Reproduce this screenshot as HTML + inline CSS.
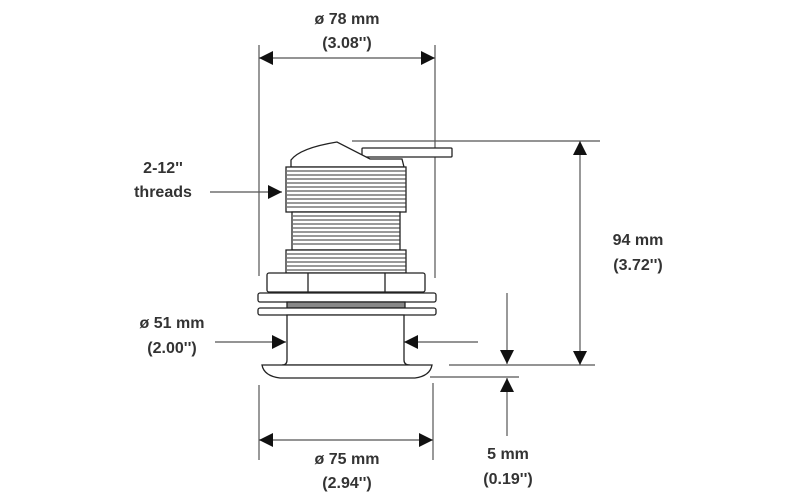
<!DOCTYPE html>
<html><head><meta charset="utf-8"><style>
html,body{margin:0;padding:0;background:#fff}
svg{display:block}
text{font-family:"Liberation Sans",Arial,sans-serif;font-size:16px;font-weight:bold;fill:#333;text-anchor:middle}
</style></head><body>
<svg width="800" height="500" viewBox="0 0 800 500" xmlns="http://www.w3.org/2000/svg">
<defs>
<marker id="a" viewBox="0 0 10 10" refX="10" refY="5" markerWidth="20" markerHeight="14" markerUnits="userSpaceOnUse" orient="auto-start-reverse"><path d="M0,0 L10,5 L0,10 z" fill="#111"/></marker>
</defs>
<g stroke="#555" stroke-width="1.2" fill="none">
<line x1="259" y1="45" x2="259" y2="276"/>
<line x1="435" y1="45" x2="435" y2="278"/>
<line x1="352" y1="141" x2="600" y2="141"/>
<line x1="449" y1="365" x2="595" y2="365"/>
<line x1="430" y1="377" x2="519" y2="377"/>
<line x1="259" y1="385" x2="259" y2="460"/>
<line x1="433" y1="383" x2="433" y2="460"/>
<line x1="259" y1="58" x2="435" y2="58" marker-start="url(#a)" marker-end="url(#a)"/>
<line x1="259" y1="440" x2="433" y2="440" marker-start="url(#a)" marker-end="url(#a)"/>
<line x1="580" y1="141" x2="580" y2="365" marker-start="url(#a)" marker-end="url(#a)"/>
<line x1="210" y1="192" x2="282" y2="192" marker-end="url(#a)"/>
<line x1="215" y1="342" x2="286" y2="342" marker-end="url(#a)"/>
<line x1="478" y1="342" x2="404" y2="342" marker-end="url(#a)"/>
<line x1="507" y1="293" x2="507" y2="364" marker-end="url(#a)"/>
<line x1="507" y1="436" x2="507" y2="378" marker-end="url(#a)"/>
</g>
<g stroke="#222" stroke-width="1.3" fill="#fff">
<rect x="362" y="148" width="90" height="9" rx="1"/>
<path d="M291,167 L291,160 Q300,148 337,142 L370,159 L402,159 L404,167 Z"/>
<rect x="286" y="167" width="120" height="45"/>
<rect x="292" y="212" width="108" height="38"/>
<rect x="286" y="250" width="120" height="23"/>
<rect x="267" y="273" width="158" height="19" rx="2"/>
<line x1="308" y1="273" x2="308" y2="292"/>
<line x1="385" y1="273" x2="385" y2="292"/>
<rect x="258" y="293" width="178" height="9" rx="2"/>
<rect x="287" y="302" width="118" height="6" fill="#888"/>
<rect x="258" y="308" width="178" height="7" rx="2"/>
<path d="M287,315 L287,360 Q287,365 282,365 L410,365 Q404,365 404,360 L404,315 Z"/>
<path d="M262,365 L432,365 Q430,376 415,378 L280,378 Q264,376 262,365 Z"/>
</g>
<g stroke="#333" stroke-width="1">
<path d="M287,171h119M287,175h119M287,179h119M287,183h119M287,187h119M287,191h119M287,195h119M287,199h119M287,203h119M287,207h119M293,216h107M293,220h107M293,224h107M293,228h107M293,232h107M293,236h107M293,240h107M293,244h107M287,254h119M287,258h119M287,262h119M287,266h119M287,270h119"/>
</g>
<text x="347" y="24">ø 78 mm</text>
<text x="347" y="48">(3.08'')</text>
<text x="163" y="173">2-12''</text>
<text x="163" y="197">threads</text>
<text x="638" y="245">94 mm</text>
<text x="638" y="270">(3.72'')</text>
<text x="172" y="328">ø 51 mm</text>
<text x="172" y="353">(2.00'')</text>
<text x="347" y="464">ø 75 mm</text>
<text x="347" y="488">(2.94'')</text>
<text x="508" y="459">5 mm</text>
<text x="508" y="484">(0.19'')</text>
</svg>
</body></html>
